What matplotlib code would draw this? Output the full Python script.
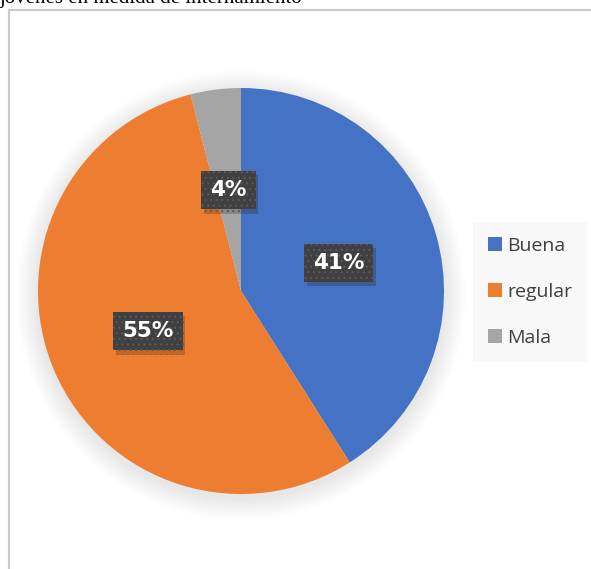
import matplotlib
matplotlib.use("Agg")
import matplotlib.pyplot as plt
from matplotlib.patches import Circle, Rectangle
from matplotlib.lines import Line2D
from matplotlib import patheffects as pe

# Data
categories = ["Buena", "regular", "Mala"]
values = [41, 55, 4]
colors = ["#4472C4", "#ED7D31", "#A5A5A5"]
title_text = "jóvenes en medida de internamiento"

plt.rcParams["hatch.linewidth"] = 0.8

W, H = 591, 569
fig = plt.figure(figsize=(W / 100, H / 100), dpi=100)
ax = fig.add_axes([0, 0, 1, 1])

cx, cy, R = 241, H - 291, 203

# soft shadow behind the pie
n = 24
for i in range(n):
    r = R + 22 * (1 - i / n)
    ax.add_patch(Circle((cx, cy - 4), r, facecolor="black", edgecolor="none",
                        alpha=0.005, zorder=0))

wedges, texts, autotexts = ax.pie(
    values, colors=colors, startangle=90, counterclock=False,
    center=(cx, cy), radius=R, autopct="%1.0f%%", pctdistance=0.5,
    wedgeprops=dict(linewidth=0), textprops=dict(color="white"))

for t in autotexts:
    t.set_fontsize(15.5)
    t.set_fontweight("bold")
    t.set_fontfamily("DejaVu Sans")
    t.set_bbox(dict(boxstyle="square,pad=0.42", facecolor="#404040",
                    edgecolor="#5a5a5a", linewidth=0, hatch="..."))
    t.get_bbox_patch().set_path_effects([
        pe.SimplePatchShadow(offset=(2, -3), shadow_rgbFace="black", alpha=0.18),
        pe.Normal()])

# chart frame
ax.add_line(Line2D([8.5, 8.5], [0, H - 9.5], color="#c9c9c9", linewidth=1.5, zorder=1))
ax.add_line(Line2D([8.5, W], [H - 9.5, H - 9.5], color="#c9c9c9", linewidth=1.5, zorder=1))

# heading line above the chart
ax.text(0, H - 3, title_text, fontsize=15, family="Liberation Serif",
        color="black", ha="left", va="baseline")

ax.set_xlim(0, W)
ax.set_ylim(0, H)
ax.set_aspect("auto")
ax.axis("off")

handles = [Rectangle((0, 0), 1, 1, facecolor=c, edgecolor="none") for c in colors]
leg = ax.legend(handles, categories, loc="center left",
                bbox_to_anchor=(473 / W, 1 - 292 / H),
                frameon=True, fancybox=False, facecolor="#f8f8f8", edgecolor="none",
                framealpha=1, handlelength=0.72, handleheight=0.72, handletextpad=0.3,
                labelspacing=1.45, borderpad=0.75, borderaxespad=0,
                prop=dict(family="Open Sans", size=14))
for txt in leg.get_texts():
    txt.set_color("#404040")

fig.savefig("out.png", dpi=100)
